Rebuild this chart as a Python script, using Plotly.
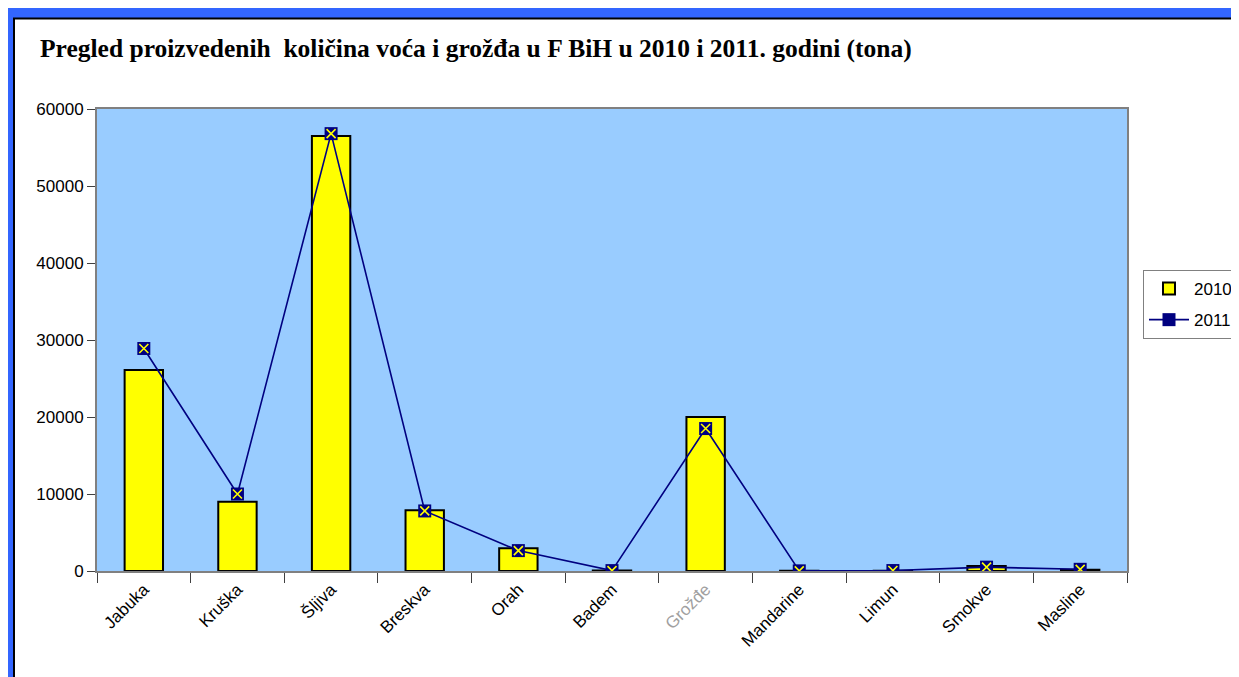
import plotly.graph_objects as go

categories = ["Jabuka", "Kruška", "Šljiva", "Breskva", "Orah", "Badem", "Grožđe",
              "Mandarine", "Limun", "Smokve", "Masline"]
values_2010 = [26100, 9000, 56500, 7900, 2950, 60, 20000, 30, 20, 650, 150]
values_2011 = [28900, 10000, 56800, 7800, 2650, 50, 18500, 20, 60, 500, 220]
tick_labels = ["Jabuka", "Kruška", "Šljiva", "Breskva", "Orah", "Badem",
               "<span style='color:#a0a0a0'>Grožđe</span>",
               "Mandarine", "Limun", "Smokve", "Masline"]
y_ticks = [0, 10000, 20000, 30000, 40000, 50000, 60000]

# page has an 8px body margin; the figure starts at (8, 8)
OFF = 8
W, H = 1239 - OFF, 677 - OFF
L, R, T, B = 97 - OFF, 1127 - OFF, 109 - OFF, 571 - OFF


def px(x):
    return (x - OFF - L) / (R - L)


def py(y):
    return (B - (y - OFF)) / (B - T)


fig = go.Figure()
fig.add_trace(go.Bar(
    x=categories, y=values_2010, name="2010",
    marker=dict(color="#FFFF00", line=dict(color="#000000", width=2)),
    legendgroup="2010",
))
fig.add_trace(go.Scatter(
    x=categories, y=values_2011, name="2011", mode="lines+markers",
    line=dict(color="#000080", width=1.6),
    marker=dict(symbol="square", size=13, color="#000080",
                line=dict(color="#000080", width=0)),
    legendgroup="2011",
))
fig.add_trace(go.Scatter(
    x=categories, y=values_2011, name="2011", mode="markers",
    marker=dict(symbol="x-thin", size=9, color="#FFFF00",
                line=dict(color="#FFFF00", width=1.6)),
    legendgroup="2011", showlegend=False, hoverinfo="skip",
))

shapes = [
    # blue frame
    dict(type="rect", xref="paper", yref="paper", x0=px(0), x1=px(1250),
         y0=py(18), y1=py(8), fillcolor="#3366FF", line=dict(width=0), layer="above"),
    dict(type="rect", xref="paper", yref="paper", x0=px(0), x1=px(13),
         y0=py(690), y1=py(8), fillcolor="#3366FF", line=dict(width=0), layer="above"),
    dict(type="line", xref="paper", yref="paper", x0=px(13), x1=px(1250),
         y0=py(18.5), y1=py(18.5), line=dict(color="#000000", width=2)),
    dict(type="line", xref="paper", yref="paper", x0=px(14), x1=px(14),
         y0=py(18), y1=py(690), line=dict(color="#000000", width=2)),
]

fig.update_layout(
    width=W, height=H,
    margin=dict(l=L, r=W - R, t=T, b=H - B, autoexpand=False),
    paper_bgcolor="#FFFFFF",
    plot_bgcolor="#99CCFF",
    bargap=0.59,
    font=dict(family="Arial, Liberation Sans, sans-serif", size=17, color="#000000"),
    showlegend=True,
    legend=dict(x=px(1143), y=py(270), xanchor="left", yanchor="top",
                bgcolor="#FFFFFF", bordercolor="#808080", borderwidth=1,
                font=dict(size=17), tracegroupgap=6, itemwidth=40),
    shapes=shapes,
    annotations=[dict(
        text="<b>Pregled proizvedenih\u00a0 količina voća i grožđa u F BiH u 2010 i 2011. godini (tona)</b>",
        xref="paper", yref="paper", x=px(38), y=py(48), xanchor="left", yanchor="middle",
        showarrow=False,
        font=dict(family="Liberation Serif, Times New Roman, serif", size=25.5, color="#000000"),
    )],
)
fig.update_xaxes(
    type="category", tickvals=categories, ticktext=tick_labels, tickangle=-45,
    range=[-0.5, len(categories) - 0.5],
    tickson="boundaries", ticks="outside", ticklen=10, tickcolor="#404040",
    showline=True, linecolor="#808080", linewidth=2, mirror=True,
    showgrid=False, tickfont=dict(size=17),
)
fig.update_yaxes(
    range=[0, 60000], tickvals=y_ticks, tickformat="d", ticks="outside", ticklen=8,
    tickcolor="#404040", showline=True, linecolor="#808080", linewidth=2,
    mirror=True, showgrid=False, zeroline=False, tickfont=dict(size=17),
)

fig.write_html("out.html")
